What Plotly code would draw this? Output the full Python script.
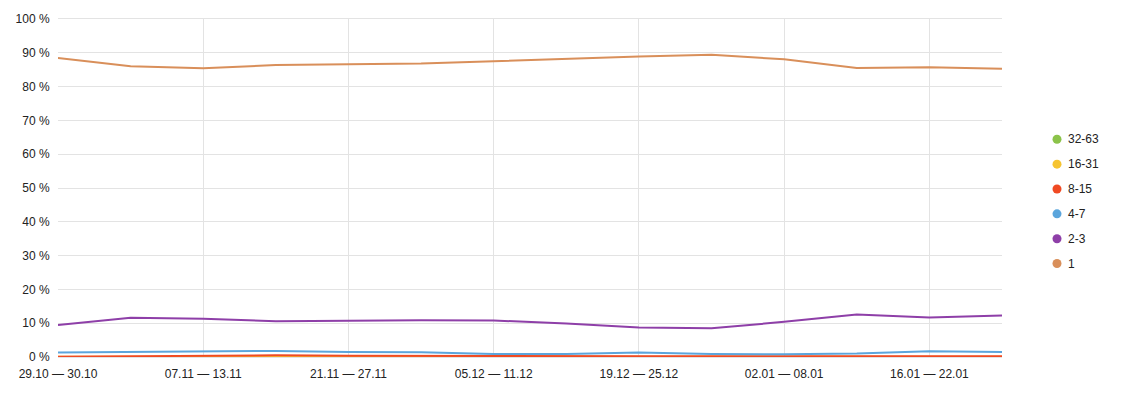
import plotly.graph_objects as go

weeks = ["29.10 — 30.10", "31.10 — 06.11", "07.11 — 13.11", "14.11 — 20.11",
         "21.11 — 27.11", "28.11 — 04.12", "05.12 — 11.12", "12.12 — 18.12",
         "19.12 — 25.12", "26.12 — 01.01", "02.01 — 08.01", "09.01 — 15.01",
         "16.01 — 22.01", "23.01 — 29.01"]

s_1 = [88.5, 86.0, 85.4, 86.4, 86.6, 86.8, 87.5, 88.3, 88.9, 89.4, 88.1, 85.5, 85.7, 85.3]
s_2_3 = [9.5, 11.6, 11.3, 10.6, 10.7, 10.9, 10.8, 9.9, 8.7, 8.5, 10.4, 12.6, 11.7, 12.3]
s_4_7 = [1.3, 1.5, 1.8, 1.8, 1.5, 1.4, 0.9, 0.9, 1.3, 0.9, 0.8, 1.0, 1.7, 1.5]
s_8_15 = [0.1, 0.3, 0.5, 0.5, 0.4, 0.3, 0.2, 0.2, 0.2, 0.2, 0.2, 0.2, 0.3, 0.2]
s_16_31 = [0.05, 0.05, 0.1, 0.1, 0.1, 0.05, 0.05, 0.05, 0.05, 0.05, 0.05, 0.05, 0.05, 0.05]
s_32_63 = [0.0] * 14

series_names = ["1", "2-3", "4-7", "8-15", "16-31", "32-63"]
series_values = [s_1, s_2_3, s_4_7, s_8_15, s_16_31, s_32_63]
colors = ["#d98f5a", "#8e3fa8", "#5ba5dc", "#f04a23", "#f6c431", "#8bc34a"]

y_ticks = list(range(0, 101, 10))
y_ticktext = [f"{v} %" for v in y_ticks]

x = list(range(len(weeks)))
fig = go.Figure()

for i in [5, 4, 3, 2, 1, 0]:
    fig.add_trace(go.Scatter(x=x, y=series_values[i], mode="lines", name=series_names[i],
                             line=dict(color=colors[i], width=2),
                             showlegend=False, hoverinfo="x+y+name"))

# custom legend: dots + labels, top-to-bottom 32-63 ... 1
plot_left, plot_right, plot_top, plot_bottom = 58, 1002, 17, 357
pw, ph = plot_right - plot_left, plot_bottom - plot_top
shapes, annotations = [], []
legend_order = list(reversed(range(len(series_names))))
for k, i in enumerate(legend_order):
    py = 138 + 25 * k
    yp = (plot_bottom - py) / ph
    xp = (1057 - plot_left) / pw
    shapes.append(dict(type="circle", xref="paper", yref="paper",
                       xsizemode="pixel", ysizemode="pixel",
                       xanchor=xp, yanchor=yp, x0=-4.5, x1=4.5, y0=-4.5, y1=4.5,
                       fillcolor=colors[i], line=dict(width=0)))
    annotations.append(dict(xref="paper", yref="paper", x=(1066 - plot_left) / pw, y=yp,
                            xanchor="left", yanchor="middle", showarrow=False,
                            text=series_names[i], font=dict(size=12, color="#222")))

fig.update_layout(
    width=1127, height=399,
    margin=dict(l=58, r=125, t=17, b=42),
    paper_bgcolor="white", plot_bgcolor="white",
    font=dict(family="Liberation Sans, Arial, sans-serif", size=12, color="#222"),
    showlegend=False,
    shapes=shapes, annotations=annotations,
    xaxis=dict(range=[0, 13], tickvals=x[::2], ticktext=weeks[::2],
               showgrid=True, gridcolor="#e3e3e3", gridwidth=1, zeroline=False,
               showline=True, mirror=True, linecolor="#e3e3e3", linewidth=1,
               ticks="outside", ticklen=6, tickcolor="rgba(0,0,0,0)",
               tickfont=dict(size=12)),
    yaxis=dict(range=[0, 100], tickvals=y_ticks, ticktext=y_ticktext,
               showgrid=True, gridcolor="#e3e3e3", gridwidth=1, zeroline=False,
               showline=False, ticks="outside", ticklen=5, tickcolor="rgba(0,0,0,0)",
               tickfont=dict(size=12)),
)

fig.write_html("out.html", config={"displayModeBar": False},
               post_script="document.body.style.margin='0';document.body.style.overflow='hidden';")
